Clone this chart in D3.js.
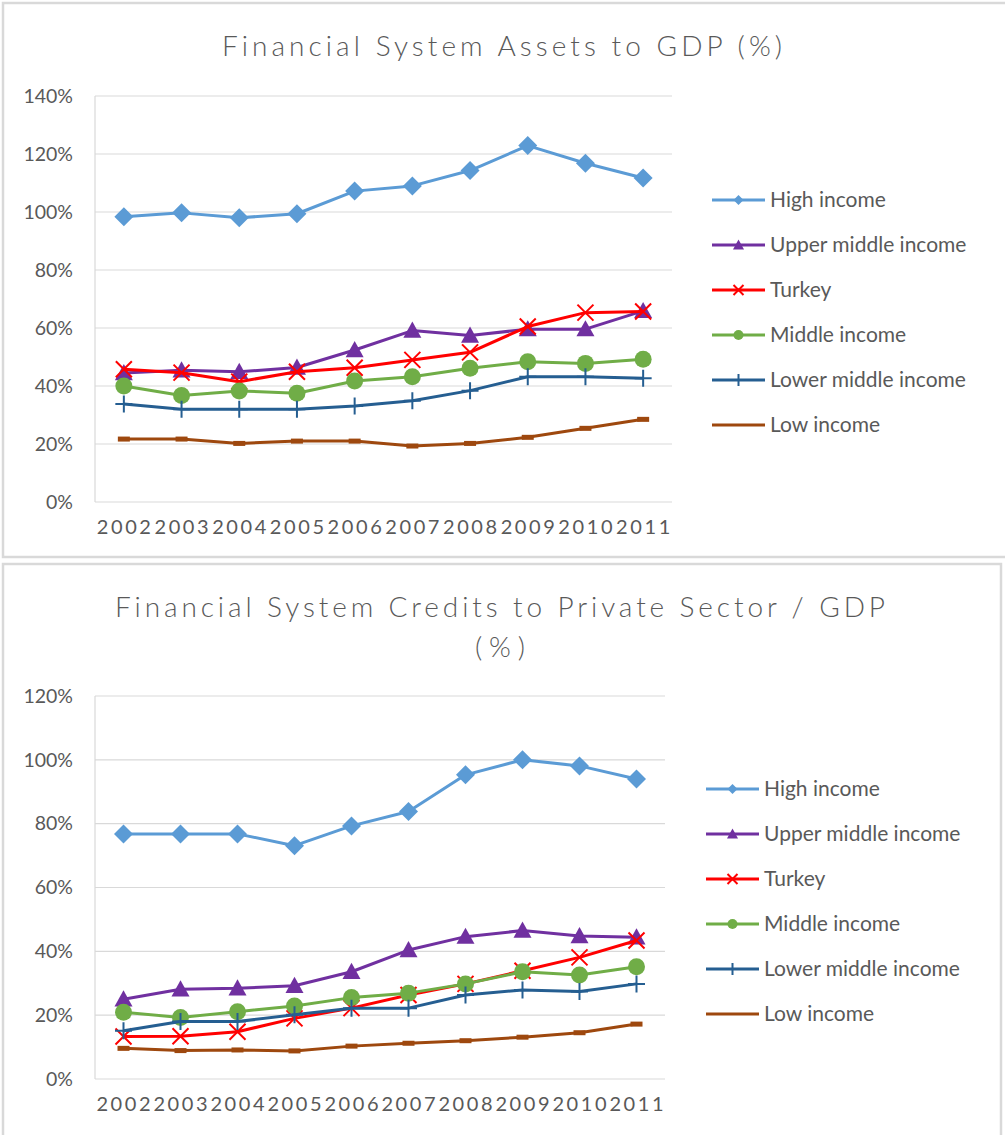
<!DOCTYPE html>
<html>
<head>
<meta charset="utf-8">
<script src="https://cdn.jsdelivr.net/npm/d3@7"></script>
<style>
  body { margin: 0; background: #fff; }
  text { font-family: Lato, "Open Sans", sans-serif; fill: #595959; }
</style>
</head>
<body>
<div id="chart"></div>
<script>
let width = 1005,
    height = 1135;

const years = ["2002", "2003", "2004", "2005", "2006", "2007", "2008", "2009", "2010", "2011"];
const seriesNames = ["High income", "Upper middle income", "Turkey", "Middle income", "Lower middle income", "Low income"];

// Financial System Assets to GDP (%)
const assetsHigh = [98.4, 99.7, 98.0, 99.4, 107.2, 109.0, 114.3, 122.9, 116.8, 111.7];
const assetsUpperMiddle = [44.5, 45.4, 44.9, 46.4, 52.4, 59.1, 57.4, 59.6, 59.6, 65.9];
const assetsTurkey = [45.8, 44.6, 41.5, 44.9, 46.3, 49.0, 51.6, 60.5, 65.3, 65.7];
const assetsMiddle = [40.0, 36.7, 38.3, 37.5, 41.7, 43.2, 46.1, 48.4, 47.8, 49.2];
const assetsLowerMiddle = [33.8, 32.0, 32.0, 32.0, 33.1, 34.9, 38.4, 43.2, 43.2, 42.7];
const assetsLow = [21.7, 21.7, 20.2, 21.0, 21.0, 19.3, 20.2, 22.3, 25.4, 28.5];

// Financial System Credits to Private Sector / GDP (%)
const creditsHigh = [76.8, 76.8, 76.8, 73.1, 79.3, 83.8, 95.3, 100.0, 98.1, 94.0];
const creditsUpperMiddle = [25.0, 28.1, 28.4, 29.2, 33.6, 40.4, 44.6, 46.5, 44.8, 44.4];
const creditsTurkey = [13.3, 13.4, 14.8, 19.0, 22.2, 26.3, 29.8, 33.9, 38.1, 43.4];
const creditsMiddle = [20.9, 19.3, 21.1, 22.9, 25.5, 26.9, 29.8, 33.6, 32.6, 35.2];
const creditsLowerMiddle = [15.1, 18.0, 18.0, 20.1, 22.2, 22.2, 26.3, 27.9, 27.4, 29.8];
const creditsLow = [9.6, 8.9, 9.1, 8.8, 10.3, 11.2, 12.0, 13.1, 14.5, 17.2];

const assetsTicks = [0, 20, 40, 60, 80, 100, 120, 140];
const creditsTicks = [0, 20, 40, 60, 80, 100, 120];

const colors = ["#5b9bd5", "#7030a0", "#ff0000", "#70ad47", "#255e91", "#9e480e"];
const markers = ["diamond", "triangle", "x", "circle", "plus", "dash"];

const svg = d3.select("#chart")
      .append("svg")
      .attr("width", width)
      .attr("height", height);

// panel frames
svg.append("rect")
    .attr("x", 3).attr("y", 3)
    .attr("width", 1010).attr("height", 554)
    .attr("fill", "none").attr("stroke", "#d9d9d9").attr("stroke-width", 2.5);
svg.append("rect")
    .attr("x", 3).attr("y", 564)
    .attr("width", 998).attr("height", 580)
    .attr("fill", "none").attr("stroke", "#d9d9d9").attr("stroke-width", 2.5);

function drawMarker(g, type, color, s) {
  switch (type) {
    case "diamond":
      g.append("path").attr("d", "M0," + (-s) + "L" + s + ",0L0," + s + "L" + (-s) + ",0Z")
        .attr("fill", color);
      break;
    case "triangle":
      g.append("path").attr("d", "M0," + (-s) + "L" + s + "," + (s * 0.8) + "L" + (-s) + "," + (s * 0.8) + "Z")
        .attr("fill", color);
      break;
    case "x":
      g.append("path").attr("d", "M" + (-s) + "," + (-s) + "L" + s + "," + s + "M" + s + "," + (-s) + "L" + (-s) + "," + s)
        .attr("stroke", color).attr("stroke-width", 2).attr("fill", "none");
      break;
    case "circle":
      g.append("circle").attr("r", s).attr("fill", color);
      break;
    case "plus":
      g.append("path").attr("d", "M0," + (-s) + "L0," + s + "M" + (-s) + ",0L" + s + ",0")
        .attr("stroke", color).attr("stroke-width", 2).attr("fill", "none");
      break;
    case "dash":
      g.append("rect").attr("x", -s).attr("y", -2.5).attr("width", s * 2).attr("height", 5)
        .attr("fill", color);
      break;
  }
}

const markerSize = { diamond: 9.5, triangle: 9, x: 8, circle: 8.5, plus: 8.5, dash: 6 };
const legendMarkerSize = { diamond: 5, triangle: 5.5, x: 5, circle: 5, plus: 6, dash: 0 };

function drawChart(opts) {
  const x = d3.scaleBand()
      .domain(years)
      .range([opts.left, opts.right]);

  const y = d3.scaleLinear()
      .domain([0, d3.max(opts.ticks)])
      .range([opts.bottom, opts.top]);

  const g = svg.append("g");

  // gridlines
  g.append("g")
    .selectAll("line")
    .data(opts.ticks)
    .enter().append("line")
    .attr("x1", opts.left).attr("x2", opts.right)
    .attr("y1", function (d) { return y(d); })
    .attr("y2", function (d) { return y(d); })
    .attr("stroke", "#d9d9d9").attr("stroke-width", 1.2);

  g.append("line")
    .attr("x1", opts.left).attr("x2", opts.left)
    .attr("y1", opts.top).attr("y2", opts.bottom)
    .attr("stroke", "#d9d9d9").attr("stroke-width", 1.2);

  // y axis labels
  const yAxis = d3.axisLeft(y)
      .tickValues(opts.ticks)
      .tickSize(0)
      .tickPadding(0)
      .tickFormat(function (d) { return d + "%"; });

  const ya = g.append("g")
      .attr("transform", "translate(" + (opts.left - 22) + ",0)")
      .call(yAxis);
  ya.select(".domain").remove();
  ya.selectAll("text")
    .attr("font-size", 19.5)
    .style("font-family", "Lato, sans-serif")
    .attr("fill", "#595959");

  // x axis labels
  const xAxis = d3.axisBottom(x).tickSize(0).tickPadding(0);
  const xa = g.append("g")
      .attr("transform", "translate(0," + (opts.bottom + 18) + ")")
      .call(xAxis);
  xa.select(".domain").remove();
  xa.selectAll("text")
    .attr("font-size", 20)
    .style("font-family", "Lato, sans-serif")
    .style("letter-spacing", "2.6px")
    .attr("dx", "1.3px")
    .attr("fill", "#595959");

  const line = d3.line()
      .x(function (d, i) { return x(years[i]) + x.bandwidth() / 2; })
      .y(function (d) { return y(d); });

  opts.series.forEach(function (values, k) {
    const s = g.append("g");
    s.append("path")
      .datum(values)
      .attr("d", line)
      .attr("fill", "none")
      .attr("stroke", colors[k])
      .attr("stroke-width", 3)
      .attr("stroke-linejoin", "round");

    s.selectAll(".pt")
      .data(values)
      .enter().append("g")
      .attr("class", "pt")
      .attr("transform", function (d, i) {
        return "translate(" + (x(years[i]) + x.bandwidth() / 2) + "," + y(d) + ")";
      })
      .each(function () {
        drawMarker(d3.select(this), markers[k], colors[k], markerSize[markers[k]]);
      });
  });

  // title
  const title = g.append("text")
      .attr("text-anchor", "middle")
      .attr("font-size", 28)
      .style("font-weight", 300)
      .attr("fill", "#595959");
  opts.title.forEach(function (t, i) {
    title.append("tspan")
      .attr("x", opts.titleX)
      .attr("y", opts.titleY + i * 40)
      .attr("textLength", opts.titleWidths[i])
      .attr("lengthAdjust", "spacing")
      .text(t);
  });

  // legend
  const legend = g.selectAll(".legend")
      .data(seriesNames)
      .enter().append("g")
      .attr("class", "legend")
      .attr("transform", function (d, i) {
        return "translate(" + opts.legendX + "," + (opts.legendY + i * 45) + ")";
      });

  legend.append("line")
    .attr("x1", 0).attr("x2", 53)
    .attr("stroke", function (d, i) { return colors[i]; })
    .attr("stroke-width", 3);

  legend.each(function (d, i) {
    const m = d3.select(this).append("g").attr("transform", "translate(26.5,0)");
    if (legendMarkerSize[markers[i]] > 0) {
      drawMarker(m, markers[i], colors[i], legendMarkerSize[markers[i]]);
    }
  });

  legend.append("text")
    .attr("x", 58)
    .attr("dy", "0.35em")
    .attr("font-size", 21)
    .text(function (d) { return d; });
}

drawChart({
  left: 95, right: 672, top: 96, bottom: 502,
  ticks: assetsTicks,
  series: [assetsHigh, assetsUpperMiddle, assetsTurkey, assetsMiddle, assetsLowerMiddle, assetsLow],
  title: ["Financial System Assets to GDP (%)"],
  titleWidths: [560],
  titleX: 502, titleY: 56,
  legendX: 712, legendY: 200
});

drawChart({
  left: 95, right: 665, top: 696, bottom: 1079,
  ticks: creditsTicks,
  series: [creditsHigh, creditsUpperMiddle, creditsTurkey, creditsMiddle, creditsLowerMiddle, creditsLow],
  title: ["Financial System Credits to Private Sector / GDP", "(%)"],
  titleWidths: [770, 50],
  titleX: 500, titleY: 617,
  legendX: 706, legendY: 789
});
</script>
</body>
</html>
